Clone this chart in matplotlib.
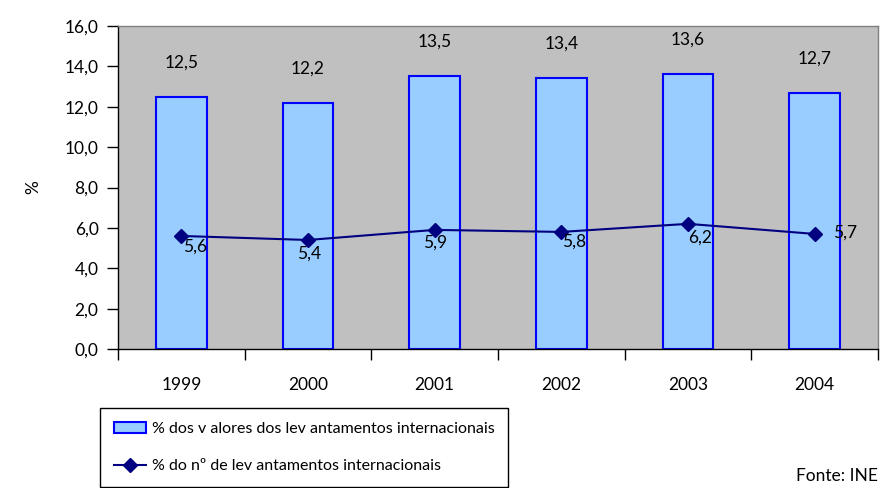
import matplotlib
matplotlib.use("Agg")
import matplotlib.pyplot as plt
import numpy as np
from matplotlib.patches import Patch
from matplotlib.lines import Line2D

plt.rcParams['font.family'] = ['Lato', 'DejaVu Sans']

# data
anos = ['1999', '2000', '2001', '2002', '2003', '2004']
pct_valores = [12.5, 12.2, 13.5, 13.4, 13.6, 12.7]
pct_numero = [5.6, 5.4, 5.9, 5.8, 6.2, 5.7]
yticks = [0, 2, 4, 6, 8, 10, 12, 14, 16]

lbl_barras = "% dos v alores dos lev antamentos internacionais"
lbl_linha = "% do nº de lev antamentos internacionais"

def virgula(v):
    return ("%.1f" % v).replace('.', ',')

fig = plt.figure(figsize=(8.95, 4.88), dpi=100)
ax = fig.add_axes([118/895, 1-349/488, 760/895, 323/488])
ax.set_facecolor('#C0C0C0')

x = np.arange(len(anos))
ax.bar(x, pct_valores, width=0.4, color='#99CCFF', edgecolor='#0000FF', linewidth=1.5, zorder=2)
ax.plot(x, pct_numero, color='#000080', lw=1.5, marker='D', ms=7, zorder=3)

# valores das barras
for xi, v in zip(x, pct_valores):
    ax.annotate(virgula(v), (xi, v), xytext=(0, 19), textcoords='offset points',
                ha='center', va='bottom', fontsize=12.5)

# valores da linha
offs = [(10, -8), (1, -10), (0, -9), (9, -7), (9, -10), (22, 1)]
for xi, v, o in zip(x, pct_numero, offs):
    ax.annotate(virgula(v), (xi, v), xytext=o, textcoords='offset points',
                ha='center', va='center', fontsize=12.5)

ax.set_xlim(-0.5, len(anos) - 0.5)
ax.set_ylim(0, 16)
ax.set_yticks(yticks)
ax.set_yticklabels([virgula(t) for t in yticks], fontsize=12.5)
ax.set_xticks(x)
ax.set_xticklabels(anos, fontsize=12.5)
ax.set_xticks(np.arange(-0.5, len(anos)), minor=True)
ax.tick_params(axis='x', which='major', length=0, pad=20)
ax.tick_params(axis='x', which='minor', length=8, direction='out', width=1)
ax.tick_params(axis='y', length=8, direction='out', width=1, pad=6)

for s in ['top', 'right']:
    ax.spines[s].set_color('#808080')
    ax.spines[s].set_linewidth(1)
ax.spines['left'].set_linewidth(1)
ax.spines['bottom'].set_linewidth(1)

fig.text(33/895, 1-187/488, '%', rotation=90, ha='center', va='center', fontsize=12.5)

handles = [Patch(facecolor='#99CCFF', edgecolor='#0000FF', linewidth=1.5),
           Line2D([0], [0], color='#000080', lw=1.5, marker='D', ms=7)]
leg = fig.legend(handles, [lbl_barras, lbl_linha], loc='upper left',
                 bbox_to_anchor=(100/895, 1-408/488), fontsize=11.5,
                 frameon=True, fancybox=False, edgecolor='black', framealpha=1,
                 borderpad=0.85, labelspacing=1.45, handlelength=2.0, handletextpad=0.4,
                 borderaxespad=0)
leg.get_frame().set_linewidth(1)

fig.text(878/895, 1-476/488, 'Fonte: INE', ha='right', va='center', fontsize=12.5)

fig.savefig('out.png', dpi=100)
